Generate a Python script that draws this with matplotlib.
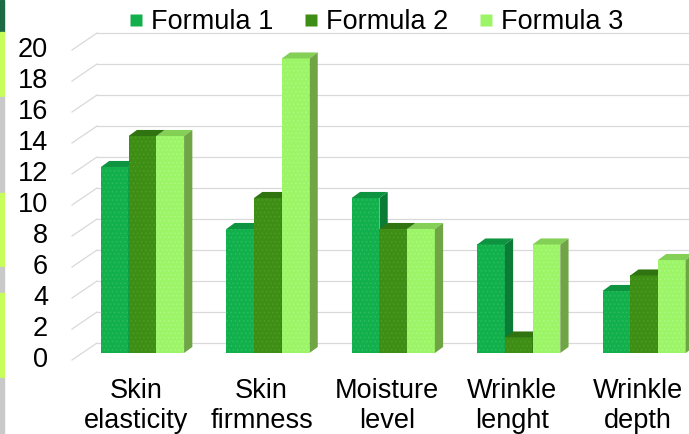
import matplotlib.pyplot as plt
from matplotlib.patches import Polygon, Rectangle
from matplotlib.lines import Line2D
import numpy as np

plt.rcParams['font.family'] = ['Liberation Sans', 'DejaVu Sans']
plt.rcParams['hatch.linewidth'] = 0.5

# data
categories = ["Skin\nelasticity", "Skin\nfirmness", "Moisture\nlevel",
              "Wrinkle\nlenght", "Wrinkle\ndepth"]
series_names = ["Formula 1", "Formula 2", "Formula 3"]
formula1 = [12, 8, 10, 7, 4]
formula2 = [14, 10, 8, 1, 5]
formula3 = [14, 19, 8, 7, 6]
yticks = list(range(0, 21, 2))

# styles: front, top, side, pattern
front_cols = ["#12b04c", "#3e8e15", "#9cf566"]
top_cols = ["#0e9440", "#2f7410", "#84cf55"]
side_cols = ["#0b7c36", "#2a640c", "#6fa545"]
hatch_cols = ["#30bd62", "#4f9c28", "#b0f985"]

bar_w = 0.221
dx, dy = 0.066, 0.39        # depth of a bar (data units)
fx, fy = 0.199, 1.097       # depth of the floor / wall

fig = plt.figure(figsize=(6.89, 4.34), dpi=100)
ax = fig.add_axes([0, 0, 1, 1])
ax.set_xlim(-1.1364, 4.358)
ax.set_ylim(-5.226, 22.774)
ax.axis("off")

# left decoration strip
strip = [(0, 32, "#1d6b44"), (32, 97, "#c6ff5c"), (97, 193, "#c9c9c9"),
         (193, 267, "#c6ff5c"), (267, 293, "#c9c9c9"), (293, 378, "#c6ff5c"),
         (378, 434, "#c9c9c9")]
for top, bot, c in strip:
    fig.patches.append(Rectangle((0, 1 - bot / 434), 4 / 689, (bot - top) / 434,
                                 transform=fig.transFigure, color=c, zorder=0))

# gridlines: front diagonal + back wall
x_back = -0.5 + bar_w * 0.62
x_front = x_back - fx
for t in yticks:
    yb = t + 0.645
    ax.plot([x_front, x_back], [yb - fy, yb], color="#d9d9d9", lw=0.9, zorder=1)
    ax.plot([x_back, 4.6], [yb, yb], color="#d9d9d9", lw=0.9, zorder=1)
    ax.text(x_front - 0.19, yb - fy, str(t), ha="right", va="center",
            fontsize=19.5, color="#000000")

x = np.arange(len(categories))
series = [formula1, formula2, formula3]
for gi in range(len(categories)):
    for si, vals in enumerate(series):
        b = ax.bar(x[gi] + (si - 1) * bar_w, vals[gi], bar_w, color=front_cols[si],
                   edgecolor=hatch_cols[si], linewidth=0, hatch="....",
                   zorder=3 + gi * 3 + si)[0]
        x0, w, h = b.get_x(), b.get_width(), b.get_height()
        top = Polygon([(x0, h), (x0 + w, h), (x0 + w + dx, h + dy), (x0 + dx, h + dy)],
                      closed=True, facecolor=top_cols[si], edgecolor="none",
                      zorder=3 + gi * 3 + si)
        side = Polygon([(x0 + w, 0), (x0 + w + dx, dy), (x0 + w + dx, h + dy), (x0 + w, h)],
                       closed=True, facecolor=side_cols[si], edgecolor="none",
                       zorder=3 + gi * 3 + si)
        ax.add_patch(top)
        ax.add_patch(side)

for gi, lab in enumerate(categories):
    ax.text(x[gi] - 0.05, -1.6, lab, ha="center", va="top", fontsize=19.5,
            linespacing=1.2, color="#000000")

handles = [Line2D([], [], marker="s", linestyle="none", markersize=9,
                  markerfacecolor=front_cols[i], markeredgecolor="none")
           for i in range(3)]
fig.legend(handles, series_names, loc="center", bbox_to_anchor=(376.5 / 689, 1 - 22 / 434),
           ncol=3, frameon=False, fontsize=19.5, handlelength=0.5, handletextpad=0.3,
           columnspacing=1.15, borderpad=0, borderaxespad=0)

fig.savefig("out.png", dpi=100)
